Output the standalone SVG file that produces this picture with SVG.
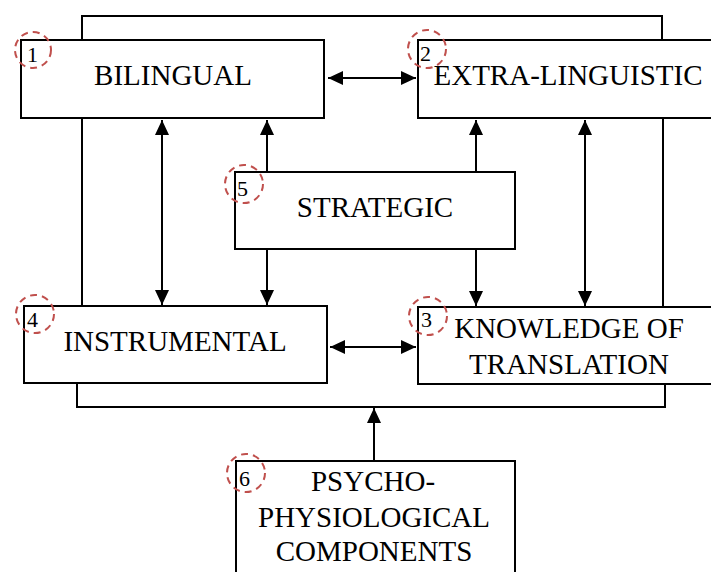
<svg xmlns="http://www.w3.org/2000/svg" width="711" height="572" viewBox="0 0 711 572">
<defs>
<marker id="ah" markerUnits="userSpaceOnUse" markerWidth="16" markerHeight="16" viewBox="0 0 16 16" refX="15" refY="8" orient="auto-start-reverse">
<path d="M0,1 L15,8 L0,15 Z" fill="#000"/>
</marker>
<style>
.box{fill:#fff;stroke:#000;stroke-width:2}
.ln{fill:none;stroke:#000;stroke-width:2}
.lbl{font-family:"Liberation Serif","Times New Roman",serif;font-size:29px;fill:#000;text-anchor:middle}
.num{font-family:"Liberation Serif","Times New Roman",serif;font-size:22px;fill:#000}
.circ{fill:none;stroke:#c0504d;stroke-width:2;stroke-dasharray:7,5}
</style>
</defs>
<rect width="711" height="572" fill="#fff"/>
<g id="connectors">
<path class="ln" d="M82,40 V16 H662 V40"/>
<path class="ln" d="M82,118 V306"/>
<path class="ln" d="M663,118 V307"/>
<path class="ln" d="M77,383 V407 H665 V384"/>
<path class="ln" d="M328,78 H416" marker-start="url(#ah)" marker-end="url(#ah)"/>
<path class="ln" d="M330,347 H416" marker-start="url(#ah)" marker-end="url(#ah)"/>
<path class="ln" d="M162,120 V305" marker-start="url(#ah)" marker-end="url(#ah)"/>
<path class="ln" d="M585,120 V306" marker-start="url(#ah)" marker-end="url(#ah)"/>
<path class="ln" d="M267,172 V120" marker-end="url(#ah)"/>
<path class="ln" d="M476,172 V120" marker-end="url(#ah)"/>
<path class="ln" d="M267,249 V305" marker-end="url(#ah)"/>
<path class="ln" d="M476,249 V306" marker-end="url(#ah)"/>
<path class="ln" d="M374,461 V408" marker-end="url(#ah)"/>
</g>
<g id="node1">
<rect class="box" x="21" y="40" width="303" height="78"/>
<text class="lbl" x="173" y="85">BILINGUAL</text>
<circle class="circ" cx="33" cy="50" r="18"/>
<text class="num" x="27" y="62">1</text>
</g>
<g id="node2">
<rect class="box" x="418" y="40" width="302" height="78"/>
<text class="lbl" x="568" y="85">EXTRA-LINGUISTIC</text>
<circle class="circ" cx="427" cy="49" r="19"/>
<text class="num" x="420" y="61">2</text>
</g>
<g id="node3">
<rect class="box" x="418" y="307" width="302" height="77"/>
<text class="lbl" x="569" y="338">KNOWLEDGE OF</text>
<text class="lbl" x="569" y="374">TRANSLATION</text>
<circle class="circ" cx="428" cy="316" r="19"/>
<text class="num" x="421" y="327">3</text>
</g>
<g id="node4">
<rect class="box" x="24" y="306" width="303" height="77"/>
<text class="lbl" x="175" y="351">INSTRUMENTAL</text>
<circle class="circ" cx="35" cy="314" r="19"/>
<text class="num" x="27" y="327">4</text>
</g>
<g id="node5">
<rect class="box" x="235" y="172" width="280" height="77"/>
<text class="lbl" x="375" y="217">STRATEGIC</text>
<circle class="circ" cx="244" cy="184" r="19"/>
<text class="num" x="237" y="196">5</text>
</g>
<g id="node6">
<rect class="box" x="236" y="461" width="279" height="130"/>
<text class="lbl" x="373" y="491">PSYCHO-</text>
<text class="lbl" x="374" y="527">PHYSIOLOGICAL</text>
<text class="lbl" x="374" y="561">COMPONENTS</text>
<circle class="circ" cx="246" cy="473" r="19"/>
<text class="num" x="239" y="486">6</text>
</g>
</svg>
